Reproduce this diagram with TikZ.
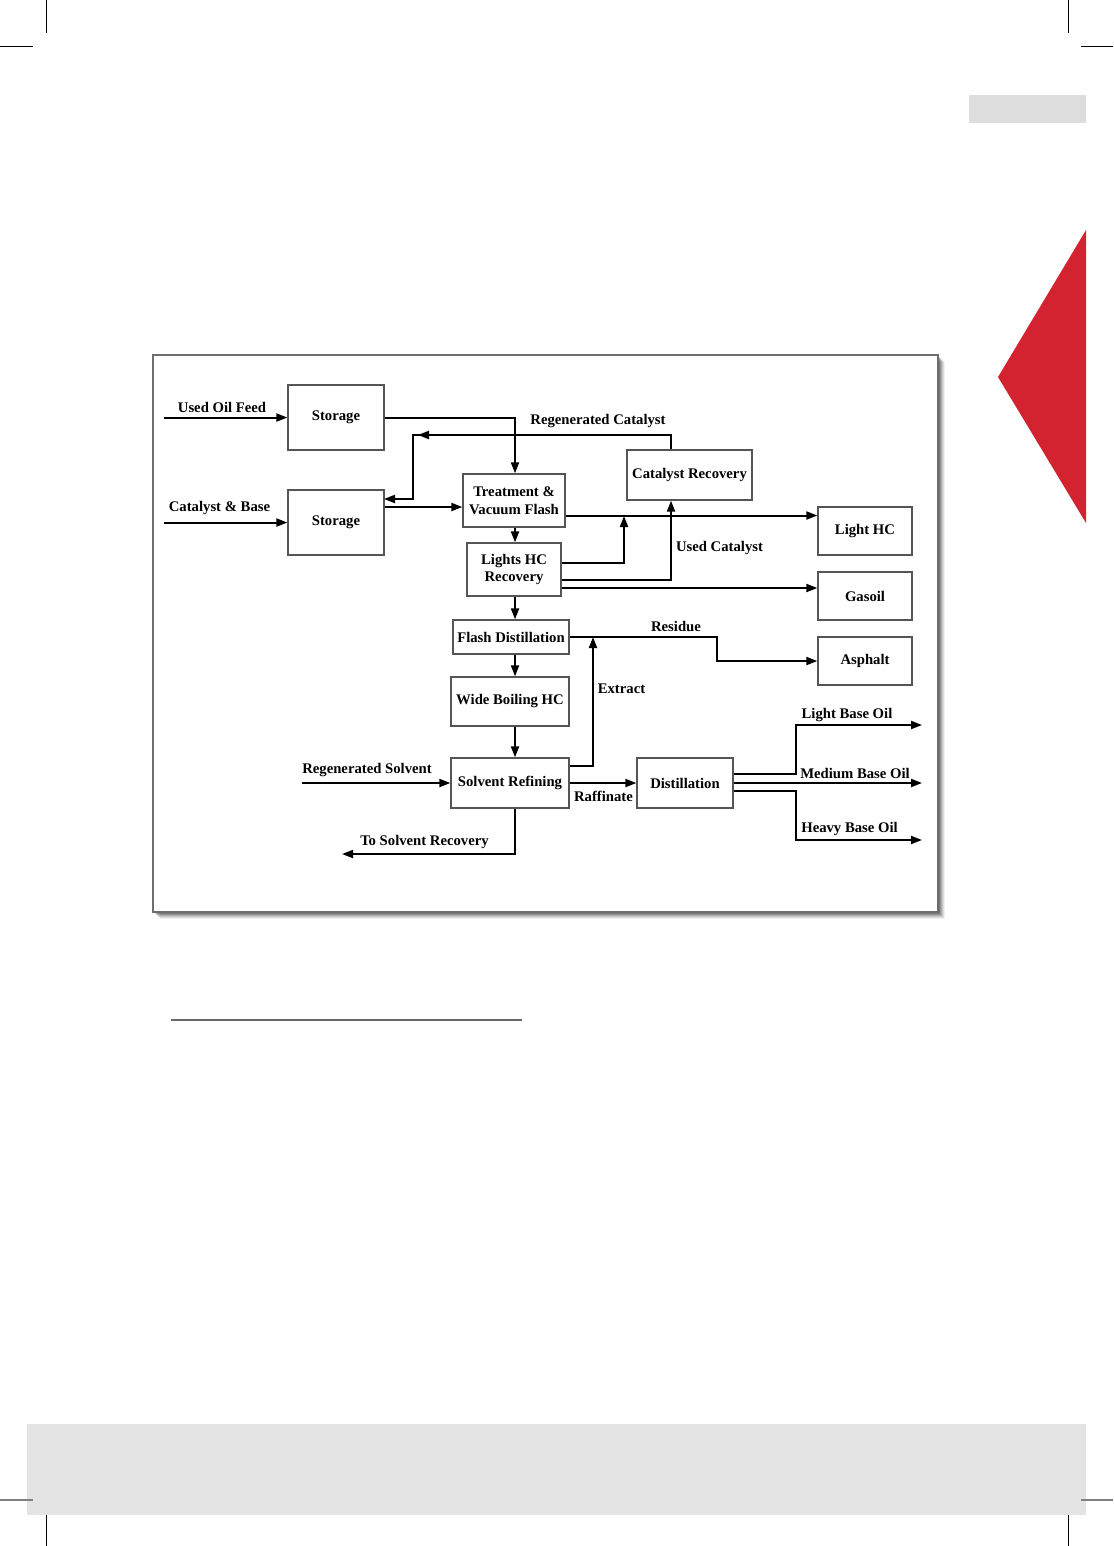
\documentclass[tikz,border=0pt]{standalone}
\usepackage{fontspec}
\setmainfont{Liberation Serif}
\usetikzlibrary{arrows.meta}
\definecolor{boxline}{HTML}{555555}
\definecolor{framecol}{HTML}{6E6E6E}
\definecolor{bandgray}{HTML}{E4E4E4}
\definecolor{tabgray}{HTML}{DDDDDD}
\definecolor{redtri}{HTML}{D42330}
\begin{document}
\begin{tikzpicture}[x=1pt,y=-1pt,
  font=\bfseries\fontsize{14.7}{17.7}\selectfont,
  procbox/.style={draw=boxline,line width=1.3pt,rectangle,inner sep=0pt,align=center,fill=white},
  arr/.style={line width=2pt,-{Triangle[length=11pt,width=8pt]}},
  lbl/.style={inner sep=0pt,anchor=center}]
\useasboundingbox (0,0) rectangle (1113,1546);
% page decorations
\fill[bandgray] (27,1424) rectangle (1086,1515);
\fill[tabgray] (969,95) rectangle (1086,123);
\fill[redtri] (998,377) -- (1086,230) -- (1086,523) -- cycle;
\draw[line width=0.8pt] (46,0) -- (46,33);
\draw[line width=0.8pt] (0,46) -- (33,46);
\draw[line width=0.8pt] (1068,0) -- (1068,33);
\draw[line width=0.8pt] (1081,46) -- (1113,46);
\draw[line width=1.8pt,gray] (0,1500) -- (33,1500);
\draw[line width=1.8pt,gray] (1081,1500) -- (1113,1500);
\draw[line width=0.8pt] (46,1515) -- (46,1546);
\draw[line width=0.8pt] (1068,1515) -- (1068,1546);
\draw[line width=1.5pt,gray!80!black] (171,1020) -- (522,1020);
% frame with shadow
\foreach \s/\o in {7/0.06,6/0.08,5/0.1,4/0.12,3/0.15,2/0.18}{
  \fill[black,opacity=\o] (153+\s,355+\s) rectangle (938+\s,912+\s);
}
\fill[white] (153,355) rectangle (938,912);
\draw[framecol,line width=2.6pt] (153,355) rectangle (938,912);
% boxes
\node[procbox,minimum width=96pt,minimum height=65pt] (st1) at (336,417.5) {Storage};
\node[procbox,minimum width=96pt,minimum height=65pt] (st2) at (336,522.5) {Storage};
\node[procbox,minimum width=102pt,minimum height=53pt] (tvf) at (514,500.5) {Treatment \&\\Vacuum Flash};
\node[procbox,minimum width=94pt,minimum height=53pt] (lhr) at (514,569.5) {Lights HC\\Recovery};
\node[procbox,minimum width=125pt,minimum height=50pt] (cr) at (689.5,475) {Catalyst Recovery};
\node[procbox,minimum width=94pt,minimum height=48pt] (lhc) at (865,531) {Light HC};
\node[procbox,minimum width=94pt,minimum height=48pt] (gas) at (865,596) {Gasoil};
\node[procbox,minimum width=94pt,minimum height=48pt] (asp) at (865,661) {Asphalt};
\node[procbox,minimum width=116pt,minimum height=34pt] (fd) at (511,637) {Flash Distillation};
\node[procbox,minimum width=118pt,minimum height=49pt] (wb) at (510,701.5) {Wide Boiling HC};
\node[procbox,minimum width=118pt,minimum height=50pt] (sr) at (510,783) {Solvent Refining};
\node[procbox,minimum width=96pt,minimum height=50pt] (dist) at (685,783) {Distillation};
% coordinates
\coordinate (in1) at (164,417.5);
\coordinate (in2) at (164,522.5);
\coordinate (in3) at (302,783);
\coordinate (colx) at (515,0);
\coordinate (rc1) at (413,435);
\coordinate (ma1) at (434,435);
\coordinate (ma2) at (418,435);
\coordinate (crx) at (671,0);
\coordinate (j1) at (624,516);
\coordinate (r1) at (717,661);
\coordinate (j3) at (593,637);
\coordinate (ts) at (342,854);
\coordinate (b1) at (796,725);
\coordinate (lbo) at (922,725);
\coordinate (mbo) at (922,783);
\coordinate (b3) at (796,840);
\coordinate (hbo) at (922,840);
\coordinate (p5) at ([yshift=-6.5pt]tvf.west);
\coordinate (p7) at ([yshift=-15pt]tvf.east);
\coordinate (p8) at ([yshift=6.5pt]lhr.east);
\coordinate (p9) at ([yshift=-10.5pt]lhr.east);
\coordinate (p10) at ([yshift=-18.5pt]lhr.east);
\coordinate (p13) at ([yshift=17pt]sr.east);
\coordinate (d1) at ([yshift=9pt]dist.east);
\coordinate (d3) at ([yshift=-8pt]dist.east);
\coordinate (s2r) at (384,499);
% connectors
\draw[arr] (in1) -- (st1.west);
\draw[arr] (in2) -- (st2.west);
\draw[arr] (st1.east) -| (colx |- tvf.north);
\draw[arr] (crx |- cr.north) |- (rc1) |- (s2r);
\draw[arr] (ma1) -- (ma2);
\draw[arr] (p5 -| st2.east) -- (p5);
\draw[arr] (colx |- tvf.south) -- (colx |- lhr.north);
\draw[arr] (p7) -- (p7 -| lhc.west);
\draw[arr] (p8) -| (j1);
\draw[arr] (p9) -| (crx |- cr.south);
\draw[arr] (p10) -- (p10 -| gas.west);
\draw[arr] (colx |- lhr.south) -- (colx |- fd.north);
\draw[arr] (fd.east) -| (r1) -- (asp.west);
\draw[arr] (p13) -| (j3);
\draw[arr] (colx |- fd.south) -- (colx |- wb.north);
\draw[arr] (colx |- wb.south) -- (colx |- sr.north);
\draw[arr] (in3) -- (sr.west);
\draw[arr] (sr.east) -- (dist.west);
\draw[arr] (colx |- sr.south) |- (ts);
\draw[arr] (d1) -| (b1) -- (lbo);
\draw[arr] (dist.east) -- (mbo);
\draw[arr] (d3) -| (b3) -- (hbo);
% labels
\node[lbl] (l1) at (222,407) {Used Oil Feed};
\node[lbl] (l2) at (219.5,508) {Catalyst \& Base};
\node[lbl] (l3) at (598,421) {Regenerated Catalyst};
\node[lbl] (l4) at (719.5,548) {Used Catalyst};
\node[lbl] (l5) at (676,626) {Residue};
\node[lbl] (l6) at (621.5,689) {Extract};
\node[lbl] (l7) at (367,770) {Regenerated Solvent};
\node[lbl] (l8) at (603.5,796) {Raffinate};
\node[lbl] (l9) at (424.5,842) {To Solvent Recovery};
\node[lbl] (l10) at (847,715) {Light Base Oil};
\node[lbl] (l11) at (855,773) {Medium Base Oil};
\node[lbl] (l12) at (849.5,829) {Heavy Base Oil};
\end{tikzpicture}
\end{document}
